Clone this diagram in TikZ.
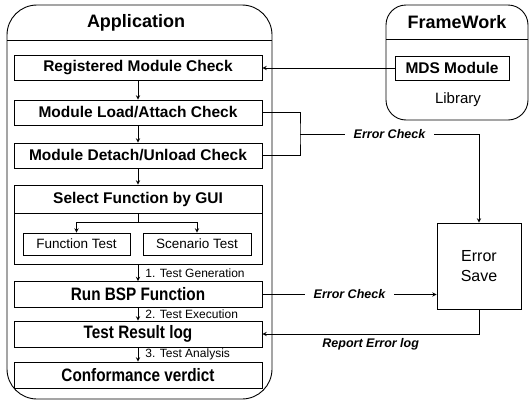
\documentclass[tikz,border=0pt]{standalone}
\usepackage{fontspec}
\setmainfont{Liberation Sans}
\newfontfamily\tallfont[FakeStretch=0.85]{Liberation Sans}
\begin{document}
\begin{tikzpicture}[x=1pt,y=-1pt,>=stealth,line width=0.9pt,
box/.style={draw,minimum width=248pt,minimum height=25pt,inner sep=0pt,font=\fontsize{15.5}{17}\selectfont\bfseries},
bigbox/.style={box,minimum height=26pt,font=\tallfont\fontsize{18}{20}\selectfont\bfseries},
subbox/.style={draw,minimum height=22pt,inner sep=0pt,font=\fontsize{13.5}{15}\selectfont},
steplbl/.style={right,xshift=5pt,inner sep=2pt,font=\fontsize{12}{14}\selectfont},
errfont/.style={font=\fontsize{12.5}{14}\selectfont\bfseries\itshape},
errlbl/.style={errfont,fill=white,inner xsep=9pt},
title/.style={font=\fontsize{18}{20}\selectfont\bfseries}]
\useasboundingbox(0,0)rectangle(531,410);
\draw[rounded corners=30pt](7,5)rectangle(272,399);
\draw(7,40)--(272,40);
\node[title](app) at(136,23){Application};
\draw[rounded corners=20pt](386,5)rectangle(528,120);
\draw(386,39)--(528,39);
\node[title](fw) at(457,22){FrameWork};
\node[box,minimum width=114pt,minimum height=24pt](mds) at(452,68){MDS Module};
\node[font=\fontsize{15}{17}\selectfont](lib) at(458,100){Library};
\node[box](reg) at(138,68){Registered Module Check};
\node[box](load) at(138,112.5){Module Load/Attach Check};
\node[box](det) at(138,155.5){Module Detach/Unload Check};
\node[draw,minimum width=248pt,minimum height=79pt](selbox) at(138,224.5){};
\node[box,minimum height=28pt](sel) at(138,199){Select Function by GUI};
\node[subbox,minimum width=107pt](ft) at(76.5,244){Function Test};
\node[subbox,minimum width=108pt](st) at(197,244){Scenario Test};
\node[bigbox](run) at(138,294.5){Run BSP Function};
\node[bigbox](res) at(138,334){Test Result log};
\node[bigbox](conf) at(138,375){Conformance verdict};
\node[draw,minimum width=84pt,minimum height=86pt,align=center,font=\fontsize{16}{20}\selectfont](err) at(479,266){Error\\Save};
\coordinate(split) at(138,222);
\coordinate(ec) at(300,134);
\coordinate(ectop) at(err.north|-ec);
\draw[->](reg)--(load);
\draw[->](load)--(det);
\draw[->](det)--(selbox);
\draw(sel.south)--(split);
\draw[->](split)-|(ft);
\draw[->](split)-|(st);
\draw[->](selbox)--node[steplbl]{1. Test Generation}(run);
\draw[->](run)--node[steplbl]{2. Test Execution}(res);
\draw[->](res)--node[steplbl]{3. Test Analysis}(conf);
\draw[->](mds)--(reg);
\draw(load.east)-|(ec)|-(det.east);
\draw[->](ec)--node[errlbl]{Error Check}(ectop)--(err.north);
\draw[->](run.east)--node[errlbl]{Error Check}(run.east-|err.west);
\draw[->](err.south)|-node[pos=0.75,below,yshift=-1pt,errfont]{Report Error log}(res.east);
\end{tikzpicture}
\end{document}
